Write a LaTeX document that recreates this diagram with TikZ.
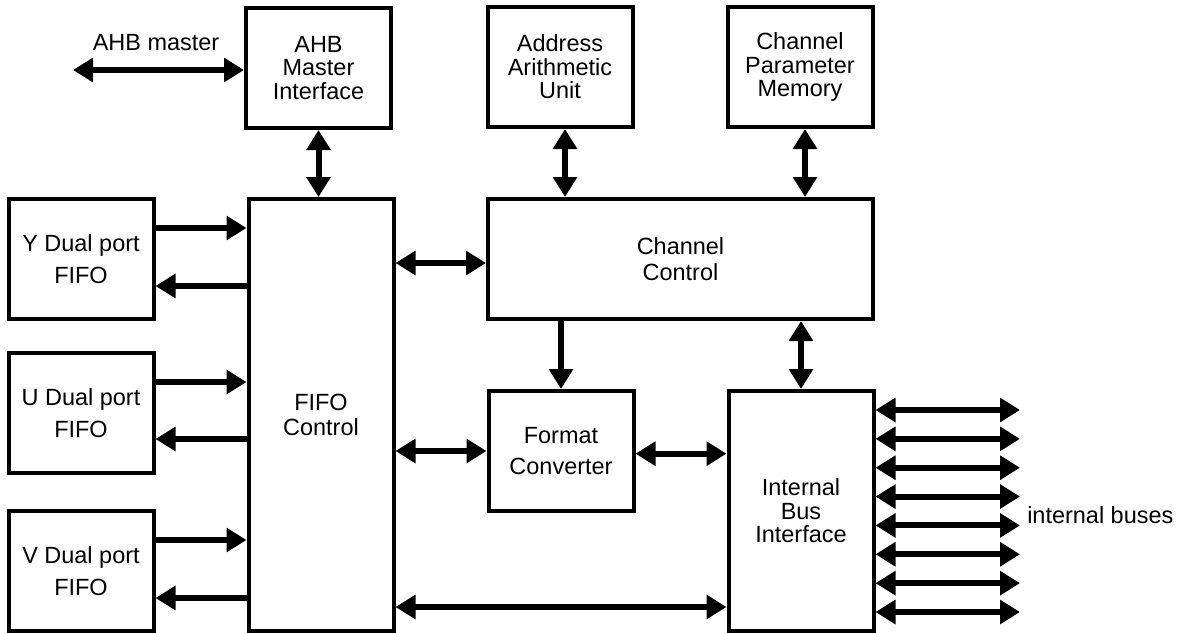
\documentclass[tikz,border=0pt]{standalone}
\usepackage{fontspec}
\setmainfont{Liberation Sans}
\usetikzlibrary{arrows.meta}
\begin{document}
\begin{tikzpicture}[x=0.75pt,y=-0.75pt,
  box/.style={draw,line width=3pt,minimum width=108.75pt,minimum height=90pt,inner sep=0pt,align=center,font=\fontsize{17.6pt}{17.6pt}\selectfont},
  lbl/.style={inner sep=0pt,font=\fontsize{17.6pt}{17.6pt}\selectfont},
  biarr/.style={line width=4.5pt,{Triangle[length=15pt,width=17.5pt]}-{Triangle[length=15pt,width=17.5pt]}},
  uniarr/.style={line width=4.5pt,-{Triangle[length=15pt,width=17.5pt]}}]
\useasboundingbox (0,0) rectangle (1178,632);
% boxes
\node[box] (ahb) at (318.5,68) {AHB\\Master\\Interface};
\node[box] (addr) at (560,67) {Address\\Arithmetic\\Unit};
\node[box] (cpm) at (800,67) {Channel\\Parameter\\Memory};
\node[box,minimum width=288.75pt,font=\fontsize{17.6pt}{19.5pt}\selectfont] (cc) at (680.5,259) {Channel\\Control};
\node[box,minimum height=324pt,font=\fontsize{17.6pt}{18.75pt}\selectfont] (fifo) at (321,415) {FIFO\\Control};
\node[box,font=\fontsize{17.6pt}{24pt}\selectfont] (yf) at (81,259) {Y Dual port\\FIFO};
\node[box,font=\fontsize{17.6pt}{24pt}\selectfont] (uf) at (81,413) {U Dual port\\FIFO};
\node[box,font=\fontsize{17.6pt}{24pt}\selectfont] (vf) at (81,571) {V Dual port\\FIFO};
\node[box,font=\fontsize{17.6pt}{23.25pt}\selectfont] (fc) at (561,451) {Format\\Converter};
\node[box,minimum height=180pt] (ibi) at (801,511) {Internal\\Bus\\Interface};
% labels
\node[lbl,anchor=base] (ahbm) at (156,50) {AHB master};
\node[lbl,anchor=base west] (ib) at (1027,523) {internal buses};
% level coordinates
\coordinate (am) at (73,70);
\coordinate (y1) at (0,228);
\coordinate (y2) at (0,286);
\coordinate (u1) at (0,382);
\coordinate (u2) at (0,439);
\coordinate (v1) at (0,540);
\coordinate (v2) at (0,598);
\coordinate (fcl) at (0,263);
\coordinate (fil) at (0,607);
% connectors
\draw[biarr] (am) -- (am -| ahb.west);
\draw[biarr] (ahb.south) -- (ahb.south |- fifo.north);
\draw[biarr] ([xshift=3.75pt]addr.south) -- ([xshift=3.75pt]addr.south |- cc.north);
\draw[biarr] ([xshift=3.75pt]cpm.south) -- ([xshift=3.75pt]cpm.south |- cc.north);
\draw[uniarr] (yf.east |- y1) -- (fifo.west |- y1);
\draw[uniarr] (fifo.west |- y2) -- (yf.east |- y2);
\draw[uniarr] (uf.east |- u1) -- (fifo.west |- u1);
\draw[uniarr] (fifo.west |- u2) -- (uf.east |- u2);
\draw[uniarr] (vf.east |- v1) -- (fifo.west |- v1);
\draw[uniarr] (fifo.west |- v2) -- (vf.east |- v2);
\draw[biarr] (fifo.east |- fcl) -- (cc.west |- fcl);
\draw[uniarr] (fc.north |- cc.south) -- (fc.north);
\draw[biarr] (ibi.north |- cc.south) -- (ibi.north);
\draw[biarr] (fifo.east |- fc.west) -- (fc.west);
\draw[biarr] ([yshift=-2pt]fc.east) -- ([yshift=-2pt]fc.east -| ibi.west);
\draw[biarr] (fifo.east |- fil) -- (ibi.west |- fil);
\foreach \i in {0,...,7} {
  \coordinate (b\i) at (1020,{410+\i*28.857});
  \draw[biarr] (ibi.east |- b\i) -- (b\i);
}
\end{tikzpicture}
\end{document}
